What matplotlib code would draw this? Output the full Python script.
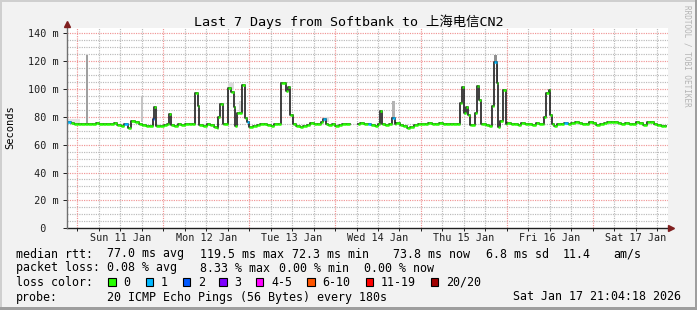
import datetime as dt
import matplotlib
matplotlib.use('Agg')
import matplotlib.pyplot as plt
from matplotlib.patches import Rectangle
from matplotlib.lines import Line2D

W, H = 697, 310
MONO = ['DejaVu Sans Mono', 'Noto Sans CJK SC']
plt.rcParams['font.family'] = MONO

end_time = dt.datetime(2026, 1, 17, 21, 4, 18)
start_time = end_time - dt.timedelta(days=7)
title = 'Last 7 Days from Softbank to 上海电信CN2'

# hourly median rtt in ms, hour 0 = left edge of graph
baseline = [
    76, 75.5, 75, 74.5, 75, 74.5, 75, 74.8, 75.2, 74.6, 75, 74.5,
    75, 75.3, 74, 73, 74.5, 72, 77, 76, 75, 74, 73.5, 73,
    73, 73, 73.5, 74, 75, 74, 73.5, 75, 74, 75, 74.5, 75,
    74, 74, 73, 74.5, 74, 72.5, 72, 75, 75, 74, 74, 74,
    74, 74, 76, 72.5, 73.5, 74, 75, 74.5, 74, 73.5, 74.5, 75,
    75, 75, 75, 75, 73, 72.5, 73.5, 74, 75.5, 75, 75, 76,
    75, 74, 74.5, 73.5, 74, 74.5, 75, 75, 75, 75, 75.5, 75,
    74.5, 74, 73.5, 74.5, 75, 74, 74.5, 75, 75.5, 74, 73.5, 72,
    72.5, 74, 74.5, 75, 74.5, 75.5, 75, 74.5, 75.5, 75, 74.5, 75,
    75, 75, 75, 75, 75, 74, 75, 75, 75, 74, 73, 74,
    74, 74, 75, 75.5, 74.5, 75, 74, 75.5, 74.5, 75, 74, 75.5,
    74.5, 75, 75, 75, 73, 74.5, 75, 75.5, 75, 75.5, 76, 75.5,
    74.5, 75, 76, 75.5, 74, 75, 75.5, 76, 76.5, 76, 75.5, 75,
    75.5, 75, 74.5, 76, 75.5, 74, 76, 76.5, 75, 74, 73, 73.5,
]

# (start h, end h, median ms) pieces that replace the hourly value
nan = float('nan')
spikes = [
    (24.1, 24.4, 78), (24.4, 25.0, 87), (28.6, 29.2, 82),
    (35.9, 36.7, 97), (36.7, 37.0, 88),
    (42.3, 42.9, 80), (42.9, 43.5, 89),
    (44.9, 45.8, 100.5), (45.8, 46.7, 98), (46.7, 47.1, 87), (47.1, 47.4, 73),
    (47.4, 49.0, 82.5), (49.0, 49.8, 103), (49.8, 50.4, 79),
    (59.7, 61.1, 104), (61.1, 61.7, 98.6), (61.7, 62.3, 101), (62.3, 63.1, 81),
    (71.5, 72.5, 78), (79.1, 81.3, nan),
    (87.5, 88.0, 84), (90.8, 91.7, 79),
    (109.9, 110.5, 90), (110.5, 111.0, 101.5), (111.0, 111.6, 82.5),
    (111.6, 112.1, 87), (112.1, 112.7, 81), (112.7, 114.1, 74),
    (114.1, 114.7, 82.5), (114.7, 115.3, 102), (115.3, 115.8, 92),
    (118.9, 119.3, 87.6), (119.3, 120.1, 119.4), (120.1, 120.5, 104),
    (120.5, 121.1, 72.4), (121.1, 121.9, 77), (121.9, 122.8, 99),
    (133.4, 134.0, 80), (134.0, 134.6, 97), (134.6, 135.1, 99), (135.1, 135.7, 81),
    (167.4, 168, nan),
]

# (start h, end h, lost pings out of 20)
losses = [
    (0, 1.5, 1), (16.3, 16.8, 1), (17.8, 18.4, 1), (24.1, 24.4, 2),
    (50.6, 51.0, 1), (71.5, 72.5, 1), (84.5, 85.0, 1), (90.8, 91.7, 1),
    (119.3, 120.1, 1), (138.6, 139.7, 1),
]

# ping spread "smoke": (start h, end h, low ms, high ms, grey)
smoke = [
    (0, 3.6, 75, 78, '#e4e4e4'), (5.3, 5.9, 74, 124, '#a0a0a0'),
    (20.7, 21.3, 76, 95, '#c4c4c4'), (44.9, 46.7, 99, 104, '#dcdcdc'),
    (48.0, 48.8, 83, 91, '#d8d8d8'), (71.8, 73.2, 76, 80, '#dcdcdc'),
    (90.8, 91.7, 79, 91, '#b4b4b4'), (119.3, 120.1, 119, 124, '#909090'),
    (120.1, 120.5, 104, 117, '#b0b0b0'),
]

loss_labels = ['0', '1', '2', '3', '4-5', '6-10', '11-19', '20/20']
loss_limits = [0, 1, 2, 3, 5, 10, 19, 20]
loss_colors = ['#26ff00', '#00b8ff', '#0059ff', '#7e00ff',
               '#ff00ff', '#ff5500', '#ff0000', '#a00000']

rtt_stats = ['77.0 ms avg', '119.5 ms max', '72.3 ms min', '73.8 ms now',
             '6.8 ms sd', '11.4', 'am/s']
rtt_x = [107.3, 200, 292.3, 392.7, 485.7, 563, 613]
loss_stats = ['0.08 % avg', '8.33 % max', '0.00 % min', '0.00 % now']
loss_x = [107.3, 200, 279.3, 364.3]
probe = '20 ICMP Echo Pings (56 Bytes) every 180s'


def loss_color(n):
    for lim, c in zip(loss_limits, loss_colors):
        if n <= lim:
            return c
    return loss_colors[-1]


# split into pieces
edges = sorted(set(range(0, 169)) | {s[0] for s in spikes} | {s[1] for s in spikes})
seg_a, seg_b, seg_v, seg_c = [], [], [], []
for a, b in zip(edges[:-1], edges[1:]):
    if b - a < 1e-9:
        continue
    m = (a + b) / 2
    v = baseline[int(m)]
    for s0, s1, sv in spikes:
        if s0 <= m < s1:
            v = sv
    n = 0
    for l0, l1, ln in losses:
        if l0 <= m < l1:
            n = ln
    seg_a.append(a)
    seg_b.append(b)
    seg_v.append(v)
    seg_c.append(loss_color(n))

xs, ys = [], []
for a, b, v in zip(seg_a, seg_b, seg_v):
    xs += [a, b]
    ys += [v, v]

fig = plt.figure(figsize=(W / 100, H / 100), dpi=100, facecolor='#f2f2f2')
ax = fig.add_axes([67 / W, (H - 228.3) / H, 601 / W, (228.3 - 27.7) / H])
ax.set_facecolor('white')
ax.set_xlim(0, 168)
ax.set_ylim(0, 143.8)

# grid
off0 = (dt.datetime(2026, 1, 11) - start_time).total_seconds() / 3600
midnights = [off0 + 24 * k for k in range(7)]
quarter_k = [k for k in range(1, 28) if k % 4 and off0 + 6 * k <= 168]
quarters = [off0 + 6 * k for k in quarter_k]
day_labels = [(dt.datetime(2026, 1, 11) + dt.timedelta(hours=6 * k)).strftime('%a %d %b')
              if k % 4 == 2 else '' for k in quarter_k]

ax.set_xticks(midnights)
ax.set_xticklabels([])
ax.set_xticks(quarters, minor=True)
ax.set_xticklabels(day_labels, minor=True)
ax.set_yticks(range(0, 141, 20))
ax.set_yticklabels([('%3d m' % v) if v else '  0  ' for v in range(0, 141, 20)],
                   ha='left')
ax.set_yticks([v for v in range(5, 144, 5) if v % 20], minor=True)

dots = (0, (1, 1))
grey, pink = '#bababa', '#f09494'
for v in range(5, 144, 5):
    ax.axhline(v, color=pink if v % 20 == 0 else grey, lw=0.85, ls=dots,
               zorder=0.5)
for q in quarters:
    ax.axvline(q, color=grey, lw=0.85, ls=dots, zorder=0.5)
for m in midnights:
    ax.axvline(m, color=pink, lw=0.85, ls=dots, zorder=0.6)

ax.tick_params(axis='y', which='major', length=3, width=0.7, pad=25.2,
               labelsize=7.3, colors='#1f1f1f')
ax.tick_params(axis='y', which='minor', length=0)
ax.tick_params(axis='x', which='both', length=2, width=0.7, pad=1.2,
               labelsize=7.3, colors='#1f1f1f')

for sp in ['top', 'right']:
    ax.spines[sp].set_visible(False)
ax.spines['left'].set_visible(False)
ax.spines['bottom'].set_color('#1f1f1f')
ax.spines['bottom'].set_linewidth(1.0)
ax.add_line(Line2D([0, 0], [0, 1.02], transform=ax.transAxes, color='#707070',
                   lw=1.0, clip_on=False, zorder=5))
ax.plot([0], [1.02], marker='^', ms=4, color='#801f1f', transform=ax.transAxes,
        clip_on=False, zorder=6)
ax.plot([1.005], [0], marker='>', ms=4, color='#801f1f', transform=ax.transAxes,
        clip_on=False, zorder=6)

# smoke, median line, loss colouring
for s0, s1, lo, hi, g in smoke:
    ax.fill_between([s0, s1], [lo, lo], [hi, hi], color=g, lw=0, zorder=1)
ax.plot(xs, ys, color='#1f1f1f', lw=1.2, zorder=2)
ax.hlines(seg_v, seg_a, seg_b, colors=seg_c, lw=1.8, zorder=3)

# texts
fig.text(0.5, 1 - 22 / H, title, ha='center', va='center', fontsize=9.6,
         family=MONO)
fig.text(10 / W, 1 - 127 / H, 'Seconds', rotation=90, ha='center', va='center',
         fontsize=7.5)
fig.text(686.5 / W, 1 - 5 / H, 'RRDTOOL / TOBI OETIKER', rotation=270,
         ha='center', va='top', fontsize=5.5, color='#b4b4b4')


def ftext(x, y, s):
    fig.text(x / W, 1 - y / H, s, ha='left', va='center', fontsize=8.4)


ftext(16, 254, 'median rtt:')
for s, x in zip(rtt_stats, rtt_x):
    ftext(x, 254, s)
ftext(16, 268, 'packet loss:')
for s, x in zip(loss_stats, loss_x):
    ftext(x, 268, s)
ftext(16, 282, 'loss color:')
box_x = [108.3, 145.7, 182.7, 219.3, 256, 307.3, 365.7, 430.7]
for bx, lab, c in zip(box_x, loss_labels, loss_colors):
    fig.add_artist(Rectangle((bx / W, 1 - 285.7 / H), 7.3 / W, 7.3 / H,
                             transform=fig.transFigure, facecolor=c,
                             edgecolor='black', lw=0.8))
    ftext(bx + 15, 282, lab)
ftext(16, 297, 'probe:')
ftext(107.3, 297, probe)
ftext(513.3, 297, end_time.strftime('%a %b %d %H:%M:%S %Y'))

# 3D frame
fig.add_artist(Rectangle((0, 1 - 2 / H), 1, 2 / H, transform=fig.transFigure,
                         facecolor='#cfcfcf', lw=0))
fig.add_artist(Rectangle((0, 0), 2 / W, 1, transform=fig.transFigure,
                         facecolor='#cfcfcf', lw=0))
fig.add_artist(Rectangle((0, 0), 1, 3 / H, transform=fig.transFigure,
                         facecolor='#9e9e9e', lw=0))
fig.add_artist(Rectangle((1 - 2 / W, 0), 2 / W, 1, transform=fig.transFigure,
                         facecolor='#9e9e9e', lw=0))

fig.savefig('out.png', dpi=100, facecolor=fig.get_facecolor())
